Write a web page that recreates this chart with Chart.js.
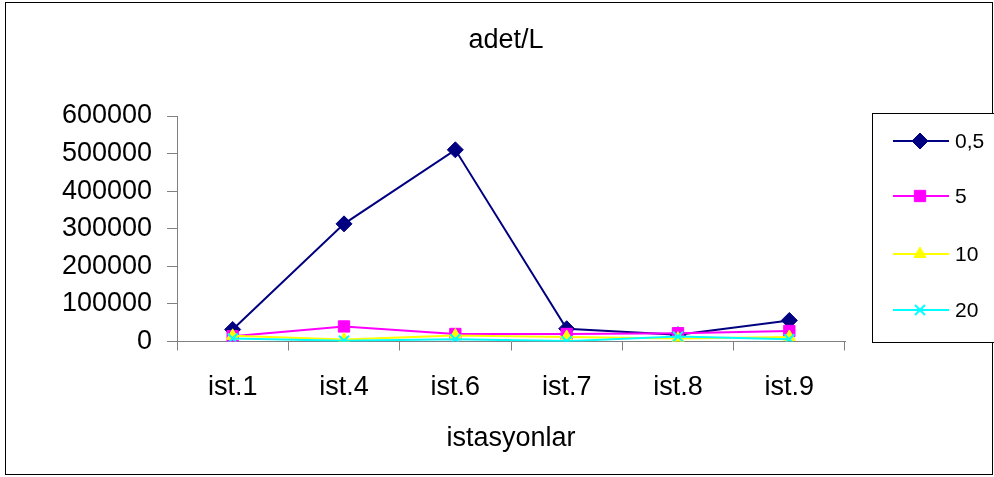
<!DOCTYPE html>
<html>
<head>
<meta charset="utf-8">
<title>adet/L</title>
<script src="https://cdn.jsdelivr.net/npm/chart.js@4/dist/chart.umd.min.js"></script>
<style>
  html, body { margin: 0; padding: 0; background: #ffffff; }
  #wrap { width: 994px; height: 477px; }
</style>
</head>
<body>
<div id="wrap"><canvas id="c" width="994" height="477"></canvas></div>
<script>
// Stations along the x axis
const stations = ['ist.1', 'ist.4', 'ist.6', 'ist.7', 'ist.8', 'ist.9'];

// Counts (adet/L) per series
const s05 = [32000, 313000, 510000, 34000, 18000, 56000];
const s5  = [14000, 40000, 20000, 20000, 22000, 28000];
const s10 = [15000, 5000, 16000, 12000, 8000, 12000];
const s20 = [8000, 2000, 6000, 1000, 13000, 6000];

const seriesNames = ['0,5', '5', '10', '20'];
const yTicks = [0, 100000, 200000, 300000, 400000, 500000, 600000];

const chartTitle = 'adet/L';
const xTitle = 'istasyonlar';

const FONT = "'Liberation Sans', Arial, sans-serif";

function ds(label, data, color, style, radius, order) {
  return {
    label: label,
    data: data,
    borderColor: color,
    backgroundColor: color,
    borderWidth: 2,
    pointStyle: style,
    pointRadius: radius,
    pointBorderColor: color,
    pointBackgroundColor: color,
    pointBorderWidth: style === 'crossRot' ? 2 : 1,
    tension: 0,
    fill: false,
    order: order
  };
}

// Outer frame, chart title and the legend box on the right
const decor = {
  id: 'decor',
  afterDraw(chart) {
    const ctx = chart.ctx;
    ctx.save();
    ctx.strokeStyle = '#000000';
    ctx.lineWidth = 1;
    ctx.strokeRect(5.5, 2.5, 987, 472);

    ctx.fillStyle = '#000000';
    ctx.font = '27px ' + FONT;
    ctx.textAlign = 'center';
    ctx.textBaseline = 'middle';
    ctx.fillText(chartTitle, 506, 41);

    ctx.fillStyle = '#ffffff';
    ctx.fillRect(873, 114, 121, 228);
    ctx.strokeStyle = '#000000';
    ctx.lineWidth = 1;
    ctx.strokeRect(872.5, 113.5, 125, 229);

    const rows = [141, 196, 254, 310];
    chart.data.datasets.forEach((d, i) => {
      const y = rows[i];
      ctx.strokeStyle = d.borderColor;
      ctx.lineWidth = 2;
      ctx.beginPath();
      ctx.moveTo(893, y);
      ctx.lineTo(949, y);
      ctx.stroke();
      ctx.fillStyle = d.pointBackgroundColor;
      ctx.strokeStyle = d.pointBorderColor;
      ctx.lineWidth = d.pointBorderWidth;
      Chart.helpers.drawPoint(ctx, {
        pointStyle: d.pointStyle,
        radius: d.pointRadius,
        borderWidth: d.pointBorderWidth,
        rotation: 0
      }, 920, y);
      ctx.fillStyle = '#000000';
      ctx.font = '21px ' + FONT;
      ctx.textAlign = 'left';
      ctx.textBaseline = 'middle';
      ctx.fillText(d.label, 955, y + 1);
    });
    ctx.restore();
  }
};

new Chart(document.getElementById('c'), {
  type: 'line',
  data: {
    labels: stations,
    datasets: [
      ds(seriesNames[0], s05, '#000080', 'rectRot', 8, 3),
      ds(seriesNames[1], s5, '#FF00FF', 'rect', 8, 2),
      ds(seriesNames[2], s10, '#FFFF00', 'triangle', 7, 1),
      ds(seriesNames[3], s20, '#00FFFF', 'crossRot', 7, 0)
    ]
  },
  options: {
    responsive: false,
    animation: false,
    devicePixelRatio: 1,
    layout: { padding: { left: 0, right: 149, top: 116, bottom: 18 } },
    plugins: {
      legend: { display: false },
      title: { display: false },
      tooltip: { enabled: false }
    },
    scales: {
      x: {
        offset: true,
        grid: {
          offset: true,
          drawOnChartArea: false,
          drawTicks: true,
          tickLength: 9,
          color: '#808080'
        },
        border: { color: '#808080', width: 1 },
        ticks: { color: '#000000', font: { family: FONT, size: 27 }, padding: 21, maxRotation: 0 },
        title: {
          display: true,
          text: xTitle,
          color: '#000000',
          font: { family: FONT, size: 27 },
          padding: { top: 0, bottom: 4 }
        },
        afterFit(scale) { scale.height = 117.5; }
      },
      y: {
        min: 0,
        max: 600000,
        afterBuildTicks(scale) { scale.ticks = yTicks.map(v => ({ value: v })); },
        grid: {
          drawOnChartArea: false,
          drawTicks: true,
          tickLength: 10,
          color: '#808080'
        },
        border: { color: '#808080', width: 1 },
        ticks: {
          color: '#000000',
          font: { family: FONT, size: 27 },
          padding: 15,
          callback: v => String(v)
        },
        afterFit(scale) { scale.width = 177; }
      }
    }
  },
  plugins: [decor]
});
</script>
</body>
</html>
